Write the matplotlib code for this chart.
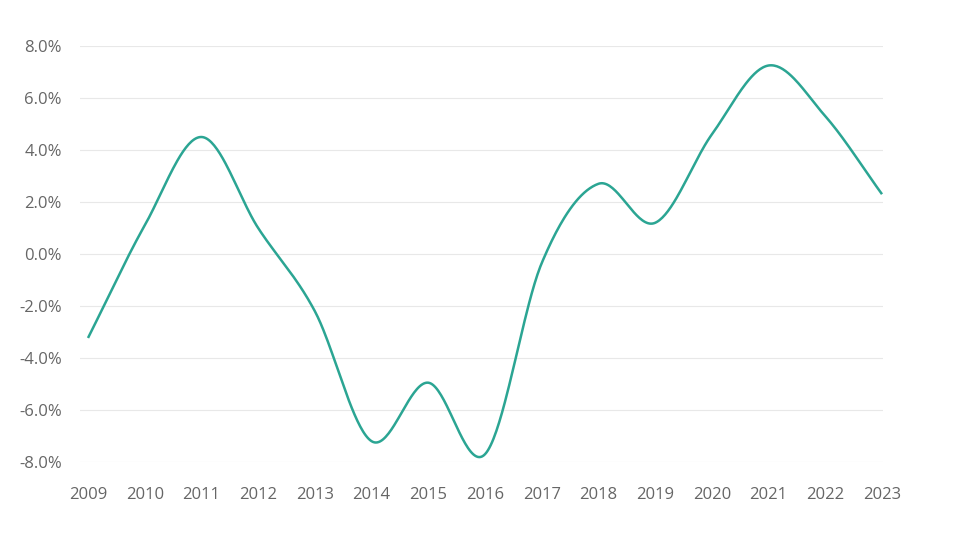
import numpy as np
import matplotlib
matplotlib.use("Agg")
import matplotlib.pyplot as plt

years = list(range(2009, 2024))
values = [-3.23, 1.1, 4.5, 1.0, -2.2, -7.2, -4.95, -7.7, -0.35, 2.7, 1.2, 4.6, 7.25, 5.3, 2.3]
yticks = [-8, -6, -4, -2, 0, 2, 4, 6, 8]

plt.rcParams['font.family'] = ['Open Sans', 'DejaVu Sans']

def catmull_rom(x, y, n=40):
    x = np.asarray(x, float); y = np.asarray(y, float)
    px = np.concatenate([[2*x[0]-x[1]], x, [2*x[-1]-x[-2]]])
    py = np.concatenate([[2*y[0]-y[1]], y, [2*y[-1]-y[-2]]])
    xs, ys = [], []
    for i in range(1, len(px)-2):
        t = np.linspace(0, 1, n, endpoint=False)
        for P, out in ((px, xs), (py, ys)):
            p0, p1, p2, p3 = P[i-1], P[i], P[i+1], P[i+2]
            out.extend(0.5*((2*p1) + (-p0+p2)*t + (2*p0-5*p1+4*p2-p3)*t**2 + (-p0+3*p1-3*p2+p3)*t**3))
    xs.append(x[-1]); ys.append(y[-1])
    return np.array(xs), np.array(ys)

fig = plt.figure(figsize=(9.66, 5.36), dpi=100)
ax = fig.add_axes([80/966, 1-462/536, (883-80)/966, (462-46)/536])

sx, sy = catmull_rom(years, values)
ax.plot(sx, sy, color='#2ba593', lw=1.8, clip_on=False, solid_capstyle='butt')

ax.set_xlim(2009 - 8/56.7, 2023 + 1/56.7)
ax.set_ylim(-8, 8)
ax.set_yticks(yticks)
ax.set_yticklabels([f"{v:.1f}%" for v in yticks])
ax.set_xticks(years)
ax.set_xticklabels([str(y) for y in years])
ax.grid(axis='y', color='#e8e8e8', lw=0.8)
ax.set_axisbelow(True)
for s in ax.spines.values():
    s.set_visible(False)
ax.tick_params(axis='both', length=0, labelsize=12, labelcolor='#666666')
ax.tick_params(axis='y', pad=13)
ax.tick_params(axis='x', pad=18)

fig.savefig('out.png', dpi=100, facecolor='white')
